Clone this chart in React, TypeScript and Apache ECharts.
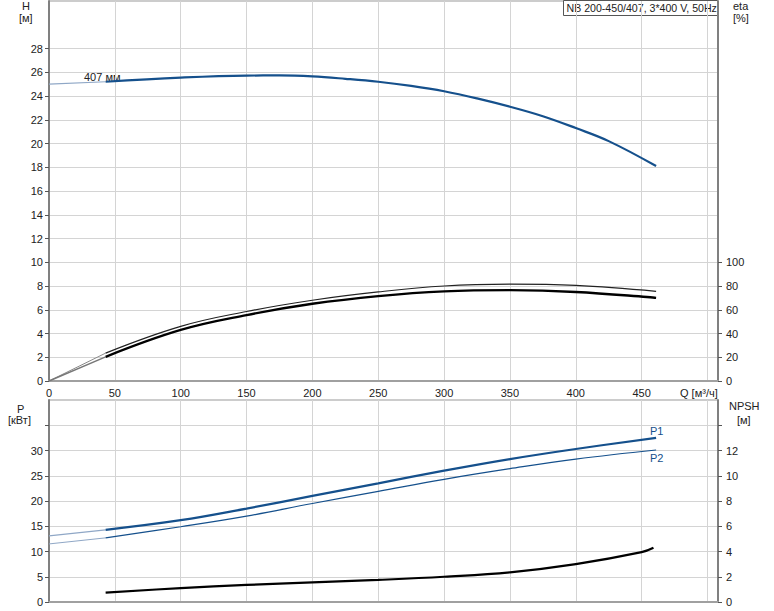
import React, { useEffect, useRef } from "react";
import * as echarts from "echarts";

// ---- data ----
const qTickLabels = [0, 50, 100, 150, 200, 250, 300, 350, 400, 450];
const hTickLabels = [0, 2, 4, 6, 8, 10, 12, 14, 16, 18, 20, 22, 24, 26, 28];
const etaTickLabels = [0, 20, 40, 60, 80, 100];
const pTickLabels = [0, 5, 10, 15, 20, 25, 30];
const pTicks = [0, 5, 10, 15, 20, 25, 30, 35];
const npshTickLabels = [0, 2, 4, 6, 8, 10, 12];
const npshTicks = [0, 2, 4, 6, 8, 10, 12, 14];

const hExtrap: number[][] = [[0, 25.0], [43, 25.2]];
const hCurve: number[][] = [
  [43, 25.2], [100, 25.55], [150, 25.72], [175, 25.73], [200, 25.65], [225, 25.45],
  [250, 25.2], [275, 24.85], [300, 24.4], [325, 23.8], [350, 23.1], [375, 22.3],
  [400, 21.3], [425, 20.2], [461, 18.1],
];
const eta1Extrap: number[][] = [[0, 0], [43, 23.5]];
const eta1Curve: number[][] = [
  [43, 23.5], [100, 46], [150, 58.5], [200, 68], [250, 75],
  [300, 80], [350, 81.5], [400, 80.5], [461, 75.5],
];
const eta2Extrap: number[][] = [[0, 0], [43, 20.4]];
const eta2Curve: number[][] = [
  [43, 20.4], [100, 43], [150, 55.5], [200, 65], [250, 71.5],
  [300, 75.5], [350, 76.5], [400, 75], [461, 70],
];
const p1Extrap: number[][] = [[0, 13.1], [43, 14.3]];
const p1Curve: number[][] = [
  [43, 14.3], [100, 16.2], [150, 18.5], [200, 21.0], [250, 23.5],
  [300, 26.0], [350, 28.3], [400, 30.3], [461, 32.5],
];
const p2Extrap: number[][] = [[0, 11.5], [43, 12.7]];
const p2Curve: number[][] = [
  [43, 12.7], [100, 14.9], [150, 17.0], [200, 19.5], [250, 21.9],
  [300, 24.3], [350, 26.4], [400, 28.3], [461, 30.1],
];
const npshCurve: number[][] = [
  [43, 0.75], [100, 1.1], [150, 1.35], [200, 1.55], [250, 1.75],
  [300, 2.0], [350, 2.35], [400, 3.0], [450, 3.95], [459, 4.3],
];

const FONT = "Liberation Sans, Arial, sans-serif";
const TXT = "#222";
const GRIDC = "#d4d4d4";
const AXISC = "#808080";
const BLUE = "#15508c";

export default function App() {
  const ref = useRef<HTMLDivElement>(null);
  useEffect(() => {
    if (!ref.current) return;
    const chart = echarts.init(ref.current, undefined, { renderer: "svg" });
    const label = { color: TXT, fontSize: 11, fontFamily: FONT };
    const xBase = (gridIndex: number, showLabels: boolean) => ({
      type: "value",
      gridIndex,
      min: 0,
      max: 508,
      interval: 50,
      axisLine: { show: true, onZero: false, lineStyle: { color: "#a0a0a0", width: 2 } },
      axisTick: { show: false },
      axisLabel: showLabels
        ? { ...label, margin: 6, customValues: qTickLabels }
        : { show: false },
      splitLine: { show: true, lineStyle: { color: GRIDC, width: 1 } },
    });
    const yAxisStyle = {
      axisLine: { show: true, onZero: false, lineStyle: { color: AXISC, width: 2 } },
    };
    const line = (
      data: number[][],
      xAxisIndex: number,
      yAxisIndex: number,
      color: string,
      width: number,
      smooth: boolean | number = 0.4
    ) => ({
      type: "line",
      xAxisIndex,
      yAxisIndex,
      data,
      smooth,
      symbol: "none",
      lineStyle: { color, width },
      silent: true,
    });

    chart.setOption({
      animation: false,
      grid: [
        { left: 49, right: 56, top: 1, height: 380, show: true, borderColor: "#999", borderWidth: 1 },
        { left: 49, right: 56, top: 400, height: 202, show: true, borderColor: "#999", borderWidth: 1 },
      ],
      xAxis: [xBase(0, true), xBase(1, false)],
      yAxis: [
        {
          type: "value", gridIndex: 0, position: "left", min: 0, max: 32, interval: 2,
          ...yAxisStyle,
          axisTick: { show: true, length: 4, lineStyle: { color: "#555" }, customValues: hTickLabels },
          axisLabel: { ...label, margin: 6, customValues: hTickLabels },
          splitLine: { show: true, lineStyle: { color: GRIDC, width: 1 } },
        },
        {
          type: "value", gridIndex: 0, position: "right", min: 0, max: 320, interval: 20,
          ...yAxisStyle,
          axisTick: { show: true, length: 4, lineStyle: { color: "#555" }, customValues: etaTickLabels },
          axisLabel: { ...label, margin: 8, customValues: etaTickLabels },
          splitLine: { show: false },
        },
        {
          type: "value", gridIndex: 1, position: "left", min: 0, max: 40, interval: 5,
          ...yAxisStyle,
          axisTick: { show: true, length: 4, lineStyle: { color: "#555" }, customValues: pTicks },
          axisLabel: { ...label, margin: 6, customValues: pTickLabels },
          splitLine: { show: true, lineStyle: { color: GRIDC, width: 1 } },
        },
        {
          type: "value", gridIndex: 1, position: "right", min: 0, max: 16, interval: 2,
          ...yAxisStyle,
          axisTick: { show: true, length: 4, lineStyle: { color: "#555" }, customValues: npshTicks },
          axisLabel: { ...label, margin: 8, customValues: npshTickLabels },
          splitLine: { show: false },
        },
      ],
      series: [
        line(hExtrap, 0, 0, "#8fa7c6", 1.2, false),
        line(hCurve, 0, 0, BLUE, 2.2),
        line(eta1Extrap, 0, 1, "#8a8a8a", 1, false),
        line(eta1Curve, 0, 1, "#222", 1.2),
        line(eta2Extrap, 0, 1, "#777", 1.4, false),
        line(eta2Curve, 0, 1, "#000", 2.4),
        line(p1Extrap, 1, 2, "#8fa7c6", 1.2, false),
        line(p1Curve, 1, 2, BLUE, 2.2),
        line(p2Extrap, 1, 2, "#8fa7c6", 1, false),
        line(p2Curve, 1, 2, BLUE, 1.2),
        line(npshCurve, 1, 3, "#000", 2.2),
      ],
      graphic: [
        { type: "text", left: 22, top: 0, style: { text: "H", fill: TXT, font: `11px ${FONT}` } },
        { type: "text", left: 19, top: 12, style: { text: "[м]", fill: TXT, font: `11px ${FONT}` } },
        { type: "text", left: 733, top: 0, style: { text: "eta", fill: TXT, font: `11px ${FONT}` } },
        { type: "text", left: 733, top: 12, style: { text: "[%]", fill: TXT, font: `11px ${FONT}` } },
        { type: "text", left: 17, top: 403, style: { text: "P", fill: TXT, font: `11px ${FONT}` } },
        { type: "text", left: 8, top: 414, style: { text: "[кВт]", fill: TXT, font: `11px ${FONT}` } },
        { type: "text", left: 729, top: 400, style: { text: "NPSH", fill: TXT, font: `11px ${FONT}` } },
        { type: "text", left: 737, top: 414, style: { text: "[м]", fill: TXT, font: `11px ${FONT}` } },
        { type: "text", left: 680, top: 387, style: { text: "Q [м³/ч]", fill: TXT, font: `11px ${FONT}` } },
        { type: "text", left: 84, top: 71, style: { text: "407 мм", fill: TXT, font: `11px ${FONT}` } },
        { type: "text", left: 650, top: 425, style: { text: "P1", fill: BLUE, font: `11px ${FONT}` } },
        { type: "text", left: 650, top: 452, style: { text: "P2", fill: BLUE, font: `11px ${FONT}` } },
        {
          type: "group", left: 563, top: 0,
          children: [
            { type: "rect", shape: { x: 0, y: 0, width: 154, height: 15 }, style: { fill: "#fff", stroke: "#555", lineWidth: 1 } },
            { type: "text", x: 3, y: 2, style: { text: "NB 200-450/407, 3*400 V, 50Hz", fill: TXT, font: `10.6px ${FONT}` } },
          ],
        },
      ],
    });
    return () => chart.dispose();
  }, []);
  return (
    <div
      ref={ref}
      style={{ position: "absolute", left: 0, top: 0, width: 774, height: 611, background: "#fff" }}
    />
  );
}
